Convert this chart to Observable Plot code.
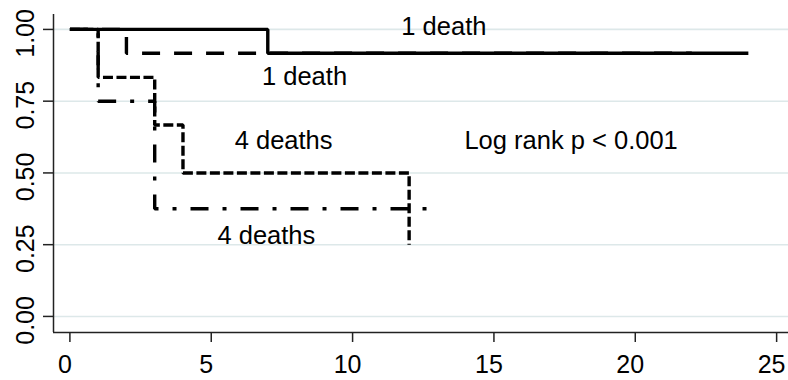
<!DOCTYPE html>
<html>
<head>
<meta charset="utf-8">
<script src="https://cdn.jsdelivr.net/npm/d3@7"></script>
<script src="https://cdn.jsdelivr.net/npm/@observablehq/plot@0.6"></script>
<style>
  html, body { margin: 0; padding: 0; background: #fff; }
  svg { display: block; }
</style>
</head>
<body>
<div id="chart"></div>
<script>
// Kaplan–Meier survival steps
const solidTime = [0, 7, 24];
const solidSurv = [1, 0.917, 0.917];

const longDashTime = [0, 2, 22];
const longDashSurv = [1, 0.917, 0.917];

const shortDashTime = [0, 1, 3, 4, 12];
const shortDashSurv = [1, 0.833, 0.667, 0.5, 0.25];

const dashDotTime = [0, 1, 3, 12.7];
const dashDotSurv = [1, 0.75, 0.375, 0.375];

// tick labels
const xTicks = [0, 5, 10, 15, 20, 25];
const yTicks = [0, 0.25, 0.5, 0.75, 1];

// annotation texts and their data positions
const noteText = ["1 death", "1 death", "4 deaths", "Log rank p < 0.001", "4 deaths"];
const noteX = [13.23, 8.30, 7.56, 17.73, 6.95];
const noteY = [0.979, 0.805, 0.582, 0.585, 0.251];

const xDomain = [-0.58, 25.42];
const yDomain = [-0.056, 1.052];

const toRows = (t, s) => t.map((d, i) => ({time: d, surv: s[i]}));
const notes = noteText.map((t, i) => ({text: t, x: noteX[i], y: noteY[i]}));

const lineStyle = {x: "time", y: "surv", curve: "step-after", stroke: "#000",
  strokeWidth: 3.4, strokeLinecap: "butt", strokeLinejoin: "miter"};

const chart = Plot.plot({
  width: 788,
  height: 380,
  marginLeft: 53,
  marginRight: 0,
  marginTop: 14,
  marginBottom: 48,
  x: {domain: xDomain},
  y: {domain: yDomain},
  style: {fontFamily: "'Liberation Sans', Arial, Helvetica, sans-serif", fontSize: "25px", background: "#fff", color: "#000"},
  marks: [
    Plot.gridY(yTicks, {stroke: "#dde8e9", strokeOpacity: 1, strokeWidth: 1.6}),
    Plot.ruleX([xDomain[0]], {stroke: "#222", strokeWidth: 1.5}),
    Plot.ruleY([yDomain[0]], {stroke: "#222", strokeWidth: 1.5}),
    // tick marks
    Plot.axisY({ticks: yTicks, tickSize: 10, tickFormat: () => "", stroke: "#222", strokeWidth: 1.5}),
    Plot.axisX({ticks: xTicks, tickSize: 10, tickFormat: () => "", stroke: "#222", strokeWidth: 1.5}),
    // tick labels
    Plot.axisY({ticks: yTicks, tickSize: 0, tickPadding: 20, tickRotate: -90, dy: 4,
      tickFormat: d => d.toFixed(2), fontSize: 25}),
    Plot.axisX({ticks: xTicks, tickSize: 0, tickPadding: 23, dx: -5, fontSize: 25}),
    Plot.line(toRows(dashDotTime, dashDotSurv), {...lineStyle, strokeDasharray: "18,14,4,14"}),
    Plot.line(toRows(shortDashTime, shortDashSurv), {...lineStyle, strokeDasharray: "10,3.5"}),
    Plot.line(toRows(longDashTime, longDashSurv), {...lineStyle, strokeDasharray: "18,14"}),
    Plot.line(toRows(solidTime, solidSurv), {...lineStyle}),
    Plot.text(notes, {x: "x", y: "y", text: "text", textAnchor: "middle", lineAnchor: "bottom", fontSize: 25.5, fill: "#000"})
  ]
});
document.getElementById("chart").appendChild(chart);
</script>
</body>
</html>
